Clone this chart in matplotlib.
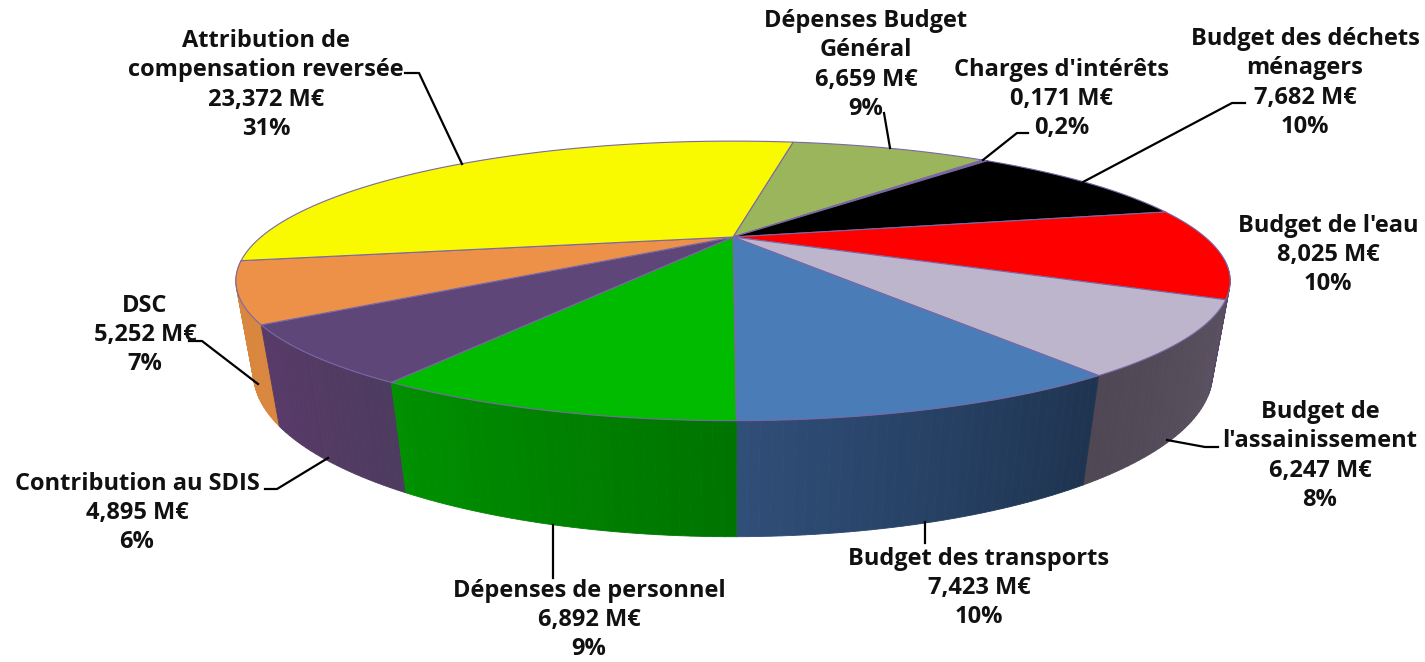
import numpy as np
import matplotlib
matplotlib.use('Agg')
import matplotlib.pyplot as plt
from matplotlib.colors import to_rgb

plt.rcParams['font.family'] = ['Open Sans', 'DejaVu Sans']

# Slices, clockwise from the yellow / green boundary
labels = ["Dépenses Budget\nGénéral", "Charges d'intérêts", "Budget des déchets\nménagers",
          "Budget de l'eau", "Budget de\nl'assainissement", "Budget des transports",
          "Dépenses de personnel", "Contribution au SDIS", "DSC",
          "Attribution de\ncompensation reversée"]
values = [6.659, 0.171, 7.682, 8.025, 6.247, 7.423, 6.892, 4.895, 5.252, 23.372]
percents = ['9%', '0,2%', '10%', '10%', '8%', '10%', '9%', '6%', '7%', '31%']
top_colors = ['#9BB55C', '#7F65A0', '#000000', '#FF0000', '#BDB5CC',
              '#4A7DB8', '#00BB00', '#5F4678', '#EE9148', '#F9F900']
wall_start = ['#6F8440', '#4F3F66', '#000000', '#5A4A66', '#5A5260',
              '#1E3450', '#007400', '#4E3B60', '#D9873F', '#A8A800']
wall_end = ['#6F8440', '#4F3F66', '#000000', '#5A4A66', '#4F4754',
            '#2F4E78', '#009000', '#583A68', '#D9873F', '#A8A800']

# label centres in pixels, and leader lines
label_pos = [(866, 65), (1062, 99), (1305, 83), (1328, 255), (1320, 456),
             (979, 588), (589, 620), (137, 513), (145, 335), (266, 85)]
leaders = [[(884, 113), (890, 148)],
           [(1028, 133), (1017, 133), (983, 160)],
           [(1245, 103), (1232, 103), (1083, 182)],
           None,
           [(1167, 440), (1205, 447), (1218, 447)],
           [(925, 522), (925, 543)],
           [(553, 525), (553, 578)],
           [(328, 458), (277, 489), (265, 489)],
           [(258, 384), (202, 341), (189, 341)],
           [(405, 73), (419, 73), (462, 164)]]

# perspective of the pie
CX, CY = 733, 237
A, B, K = 472, 126, 0.314
DEPTH, M = 89.5, 0.033
START = 9.6


def project(angle, z=0.0, r=1.0):
    """Angle in degrees clockwise from the back of the pie, z=1 is the bottom face"""
    t = np.radians(angle)
    u, v = r * np.sin(t), r * np.cos(t)
    w = 1 + K * v + M * z
    return CX + A * u / w, CY + (-B * v + DEPTH * z) / w


fig = plt.figure(figsize=(14.25, 6.62), dpi=100)
ax = fig.add_axes([0, 0, 1, 1])
ax.set_xlim(0, 1425)
ax.set_ylim(662, 0)
ax.axis('off')

edges = START + np.concatenate([[0], np.cumsum(values)]) / np.sum(values) * 360

# side walls, drawn in thin strips for the gradient, back ones first
strips = []
for i in range(len(values)):
    a0, a1 = edges[i], edges[i + 1]
    steps = np.linspace(a0, a1, int(a1 - a0) + 2)
    c0, c1 = np.array(to_rgb(wall_start[i])), np.array(to_rgb(wall_end[i]))
    for j in range(len(steps) - 1):
        s0, s1 = steps[j], steps[j + 1]
        depth = np.cos(np.radians((s0 + s1) / 2))
        if depth > -0.17:
            continue  # back of the pie, hidden
        f = j / max(len(steps) - 2, 1)
        strips.append((depth, s0, s1, c0 + (c1 - c0) * f))
strips.sort(key=lambda s: -s[0])
for depth, s0, s1, col in strips:
    x0, y0 = project(s0)
    x1, y1 = project(s1)
    x2, y2 = project(s1, 1)
    x3, y3 = project(s0, 1)
    ax.fill([x0, x1, x2, x3], [y0, y1, y2, y3], color=col, lw=0.6, zorder=2)

# top face
for i in range(len(values)):
    arc = np.linspace(edges[i], edges[i + 1], 120)
    xs, ys = project(arc)
    ax.fill(np.r_[CX, xs], np.r_[CY, ys], facecolor=top_colors[i], edgecolor='#7A68A6', lw=0.8, zorder=3,
            joinstyle='round')

# labels and leader lines
for i in range(len(values)):
    txt = f"{labels[i]}\n{values[i]:.3f} M€\n{percents[i]}".replace('.', ',')
    ax.text(label_pos[i][0], label_pos[i][1], txt, ha='center', va='center', fontsize=17,
            fontweight='bold', color='#111111', linespacing=1.3, zorder=5)
    if leaders[i] is not None:
        ax.plot([p[0] for p in leaders[i]], [p[1] for p in leaders[i]], color='black', lw=1.6, zorder=4)

fig.savefig('out.png', dpi=100)
